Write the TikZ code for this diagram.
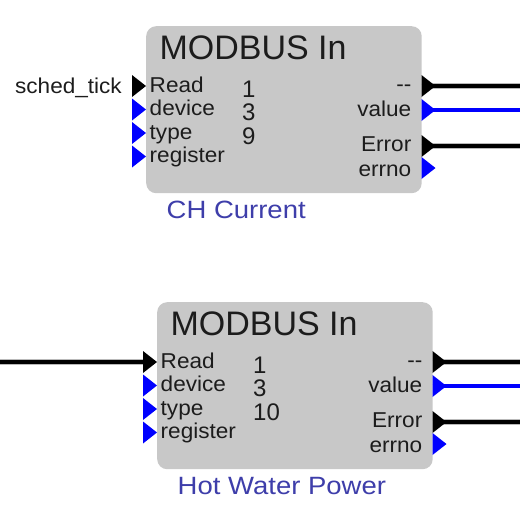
\documentclass[tikz,border=0pt]{standalone}
\usepackage{fontspec}
\setmainfont{Liberation Sans}
\newfontfamily\lblfamily[FakeStretch=1.05]{Liberation Sans}
\newfontfamily\capfamily[FakeStretch=1.1]{Liberation Sans}
\definecolor{boxgray}{RGB}{200,200,200}
\definecolor{txt}{RGB}{28,28,28}
\definecolor{capblue}{RGB}{62,62,170}
\definecolor{portblue}{RGB}{0,0,255}
\tikzset{
  blockbox/.style={fill=boxgray, draw=none, rounded corners=10pt, minimum width=275.5pt, minimum height=167pt, anchor=north west, inner sep=0pt},
  titletext/.style={font=\fontsize{34}{36}\selectfont, text=txt, inner sep=0pt},
  lbl/.style={font=\lblfamily\fontsize{21.5}{22}\selectfont, text=txt, inner sep=0pt},
  numtext/.style={font=\fontsize{24}{25}\selectfont, text=txt, inner sep=0pt, anchor=base west},
  captext/.style={font=\capfamily\fontsize{25}{26}\selectfont, text=capblue, inner sep=0pt, anchor=base west},
  wireblack/.style={draw=gray!55, double=black, double distance=4pt, line width=0.6pt},
  wireblue/.style={draw=blue!40, double=portblue, double distance=3.6pt, line width=0.5pt},
}
\newcommand{\mblock}[7]{% #1 prefix, #2 x, #3 y, #4-#6 numbers, #7 caption
  \begin{scope}[shift={(#2,#3)}]
    \node[blockbox] (#1box) at (0,0) {};
    \node[titletext, anchor=base west] (#1title) at (13.3,33.3) {MODBUS In};
    % inputs
    \coordinate (#1in1) at (0,60);
    \coordinate (#1in2) at (0,83.5);
    \coordinate (#1in3) at (0,107);
    \coordinate (#1in4) at (0,130.5);
    \coordinate (#1inbase) at (-14,60);
    \fill[black] (#1in1) -- ++(-14,-11) -- ++(0,22) -- cycle;
    \fill[portblue] (#1in2) -- ++(-14,-11) -- ++(0,22) -- cycle;
    \fill[portblue] (#1in3) -- ++(-14,-11) -- ++(0,22) -- cycle;
    \fill[portblue] (#1in4) -- ++(-14,-11) -- ++(0,22) -- cycle;
    \node[lbl, anchor=base west] (#1lread) at (3.5,66) {Read};
    \node[lbl, anchor=base west] (#1ldevice) at (3.5,89.5) {device};
    \node[lbl, anchor=base west] (#1ltype) at (3.5,113) {type};
    \node[lbl, anchor=base west] (#1lregister) at (3.5,136.5) {register};
    \node[numtext] (#1n1) at (96,71) {#4};
    \node[numtext] (#1n2) at (96,94.5) {#5};
    \node[numtext] (#1n3) at (96,118.5) {#6};
    % outputs
    \coordinate (#1out1) at (275.5,60);
    \coordinate (#1out2) at (275.5,84);
    \coordinate (#1out3) at (275.5,120);
    \coordinate (#1out4) at (275.5,142);
    \node[lbl, anchor=base east] (#1ldash) at (265.5,65) {--};
    \node[lbl, anchor=base east] (#1lvalue) at (265.5,90) {value};
    \node[lbl, anchor=base east] (#1lerror) at (265.5,125.7) {Error};
    \node[lbl, anchor=base east] (#1lerrno) at (265.5,150) {errno};
    \node[captext] (#1cap) at (20.5,192.5) {#7};
  \end{scope}}
\newcommand{\mports}[1]{%
  \coordinate (#1end1) at (#1out1 -| rightedge);
  \coordinate (#1end2) at (#1out2 -| rightedge);
  \coordinate (#1end3) at (#1out3 -| rightedge);
  \draw[wireblack] (#1out1) -- (#1end1);
  \draw[wireblue] (#1out2) -- (#1end2);
  \draw[wireblack] (#1out3) -- (#1end3);
  \fill[black] (#1out1) -- ++(14,0) -- ++(-14,-11) -- ++(0,22) -- ++(14,-11) -- cycle;
  \fill[portblue] (#1out2) ++(0,-11) -- ++(14,11) -- ++(-14,11) -- cycle;
  \fill[black] (#1out3) ++(0,-11) -- ++(14,11) -- ++(-14,11) -- cycle;
  \fill[portblue] (#1out4) ++(0,-11) -- ++(14,11) -- ++(-14,11) -- cycle;}
\begin{document}
\begin{tikzpicture}[x=1pt,y=-1pt]
  \useasboundingbox[fill=white] (0,0) rectangle (520,520);
  \coordinate (rightedge) at (520,0);
  \coordinate (leftedge) at (0,0);
  \mblock{a}{146}{26}{1}{3}{9}{CH Current}
  \mblock{b}{157}{302}{1}{3}{10}{Hot Water Power}
  \mports{a}
  \mports{b}
  \node[lbl, anchor=base east] (sched) at (122,93) {sched\_tick};
  \coordinate (bstart) at (leftedge |- bin1);
  \draw[wireblack] (bstart) -- (binbase);
\end{tikzpicture}
\end{document}
